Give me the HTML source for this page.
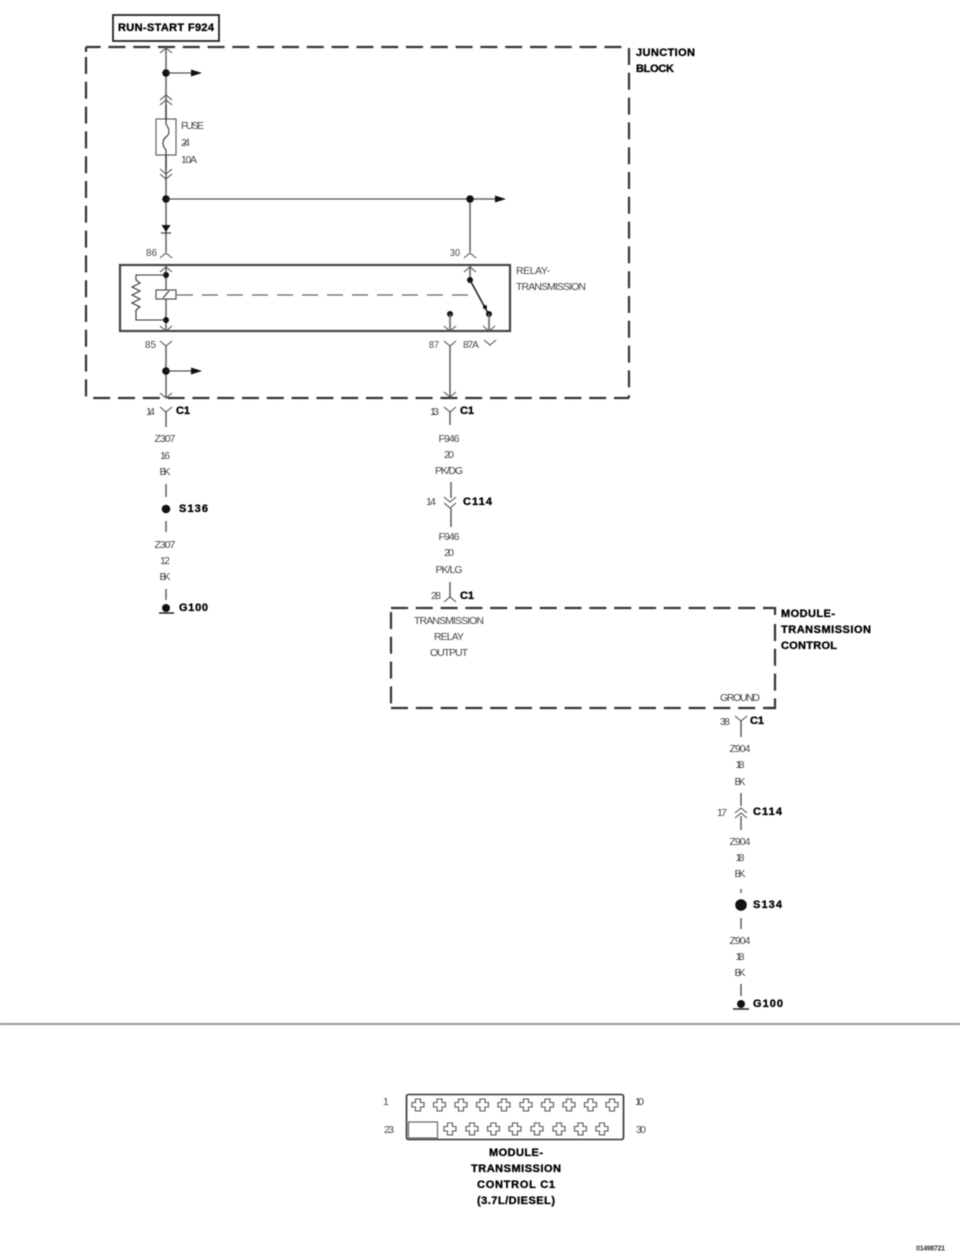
<!DOCTYPE html>
<html><head><meta charset="utf-8"><title>Diagram</title>
<style>
html,body{margin:0;padding:0;background:#fff;width:960px;height:1257px;overflow:hidden}
svg{display:block;filter:blur(0.5px)}
text{font-family:"Liberation Sans Narrow","Liberation Sans",sans-serif;font-size:10.500px;fill:#444;dominant-baseline:central}
.b{font-weight:bold;fill:#000;font-size:11px;stroke:#000;stroke-width:.35}
.m{text-anchor:middle}
.w{stroke:#666;stroke-width:1.600;fill:none}
.d{stroke:#333;stroke-width:2.200;fill:none;stroke-dasharray:17 7.800}
.k{stroke:#333;stroke-width:1.100;fill:none}
</style></head><body>
<svg width="960" height="1257" viewBox="0 0 960 1257" xmlns="http://www.w3.org/2000/svg">
<defs>
<path id="up" d="M-6 5L0 0L6 5" fill="none" stroke="#555" stroke-width="1.100"/>
<path id="dn" d="M-6 0L0 5L6 0" fill="none" stroke="#555" stroke-width="1.100"/>
<path id="x" d="M-2.500 -6H2.500V-2.500H6V2H2.500V6H-2.500V2H-6V-2.500H-2.500Z" fill="#fff" stroke="#555" stroke-width="1.100"/>
</defs>

<!-- Title box -->
<rect x="113" y="15" width="106" height="26" fill="#fff" stroke="#222" stroke-width="1.800"/>
<text class="b" x="118" y="28" textLength="96" lengthAdjust="spacing">RUN-START F924</text>

<!-- Dashed boxes -->
<path class="d" d="M86 47H629" stroke-dashoffset="2.400"/>
<path class="d" d="M86 47V52M86 57V398"/>
<path class="d" d="M629 48V398"/>
<path class="d" d="M86 398H629" stroke-dashoffset="17.600"/>
<path class="d" d="M391 608H767"/>
<path d="M767 608H775V615" fill="none" stroke="#333" stroke-width="2.200"/>
<path class="d" d="M391 612V708"/>
<path class="d" d="M391 708H775"/>
<path class="d" d="M775 624V700"/>
<path d="M775 699V708H767" fill="none" stroke="#333" stroke-width="2.200"/>

<!-- Left feed -->
<path class="w" d="M166 47V119M166 155V252"/>
<use href="#up" x="166" y="48"/>
<circle cx="166" cy="73" r="3.800" fill="#111"/>
<path class="k" d="M166 73H192"/><path d="M191 69.500L202 73L191 76.500Z" fill="#111"/>
<use href="#up" x="166" y="95"/><use href="#up" x="166" y="100"/>
<rect x="156" y="119" width="20" height="36" fill="#fff" stroke="#555" stroke-width="1.100"/>
<path class="k" d="M166 105V124C170 130 170 134 166 137C162 140 162 146 166 150V170" stroke-width="1.300"/>
<use href="#dn" x="166" y="169"/><use href="#dn" x="166" y="174"/>
<circle cx="166" cy="199" r="3.800" fill="#111"/>
<path class="k" d="M166 199H470" stroke="#444"/>
<path d="M161.500 225H170.500L166 232Z" fill="#111"/><path class="k" d="M161 233H171"/>
<use href="#up" x="166" y="253"/>
<text x="146" y="253" textLength="11" lengthAdjust="spacingAndGlyphs">86</text>

<!-- Right feed -->
<path class="w" d="M470 199H496M470 199V252"/><path d="M495 195.500L506 199L495 202.500Z" fill="#111"/>
<circle cx="470" cy="199" r="3.800" fill="#111"/>
<use href="#up" x="470" y="253"/>
<text x="450" y="253" textLength="10" lengthAdjust="spacingAndGlyphs">30</text>

<!-- Relay -->
<rect x="120" y="265" width="390" height="66" fill="#fff" stroke="#444" stroke-width="2.200"/>
<path class="w" d="M166 266V331"/>
<use href="#up" x="166" y="267"/><use href="#dn" x="166" y="326"/>
<circle cx="166" cy="275" r="3" fill="#111"/><circle cx="166" cy="320" r="3" fill="#111"/>
<path class="k" d="M166 275H136V280L140 283L132 287L140 291L132 295L140 299L132 303L140 307L136 310V320H166"/>
<rect x="156" y="290" width="20" height="9" fill="#fff" stroke="#444" stroke-width="1.100"/>
<path class="k" d="M163 298L169 291"/>
<path d="M177 295H470" fill="none" stroke="#666" stroke-width="1.300" stroke-dasharray="16 9"/>
<text x="516" y="271" textLength="34" lengthAdjust="spacing">RELAY-</text>
<text x="516" y="287" textLength="70" lengthAdjust="spacing">TRANSMISSION</text>
<path class="w" d="M470 266V280"/><use href="#up" x="470" y="267"/>
<circle cx="470" cy="280" r="3" fill="#111"/>
<path stroke="#222" stroke-width="1.600" d="M470 280L489 315" fill="none"/>
<circle cx="485" cy="307" r="2" fill="#111"/>
<circle cx="489" cy="314" r="3" fill="#111"/>
<path class="w" d="M489 314V331"/><use href="#dn" x="489" y="326"/>
<circle cx="450" cy="314" r="3" fill="#111"/>
<path class="w" d="M450 314V331"/><use href="#dn" x="450" y="326"/>

<!-- Below relay -->
<use href="#dn" x="166" y="341"/><path class="w" d="M166 346V398"/>
<text x="145" y="345" textLength="11" lengthAdjust="spacingAndGlyphs">85</text>
<circle cx="166" cy="371" r="3.800" fill="#111"/>
<path class="k" d="M166 371H192"/><path d="M191 367.500L202 371L191 374.500Z" fill="#111"/>
<use href="#dn" x="166" y="393"/>
<use href="#dn" x="450" y="341"/><path class="w" d="M450 346V397"/><use href="#dn" x="450" y="392"/>
<text x="429" y="345" textLength="10" lengthAdjust="spacingAndGlyphs">87</text>
<text x="463" y="345" textLength="16" lengthAdjust="spacing">87A</text>
<use href="#dn" x="490" y="340"/>

<!-- Fuse labels -->
<text x="181" y="126" textLength="23" lengthAdjust="spacing">FUSE</text>
<text x="181" y="143" textLength="9" lengthAdjust="spacing">24</text>
<text x="181" y="160" textLength="16" lengthAdjust="spacing">10A</text>

<text class="b" x="636" y="53" textLength="59" lengthAdjust="spacing">JUNCTION</text>
<text class="b" x="636" y="69" textLength="38" lengthAdjust="spacing">BLOCK</text>

<!-- Left lower chain -->
<use href="#dn" x="166" y="407"/><path class="w" d="M166 412V427M166 484V497M166 521V532M166 589V600"/>
<text x="146" y="412" textLength="9" lengthAdjust="spacing">14</text>
<text class="b" x="176" y="411" textLength="14" lengthAdjust="spacing">C1</text>
<text class="m" x="165" y="439" textLength="21" lengthAdjust="spacing">Z307</text>
<text class="m" x="165" y="456" textLength="10" lengthAdjust="spacing">16</text>
<text class="m" x="165" y="472" textLength="11" lengthAdjust="spacing">BK</text>
<circle cx="166" cy="509" r="4.300" fill="#111"/>
<text class="b" x="179" y="509" textLength="29" lengthAdjust="spacing">S136</text>
<text class="m" x="165" y="545" textLength="21" lengthAdjust="spacing">Z307</text>
<text class="m" x="165" y="561" textLength="10" lengthAdjust="spacing">12</text>
<text class="m" x="165" y="577" textLength="11" lengthAdjust="spacing">BK</text>
<circle cx="166" cy="608" r="4" fill="#111"/><path d="M159 613H174" stroke="#222" stroke-width="1.500"/>
<text class="b" x="179" y="608" textLength="29" lengthAdjust="spacing">G100</text>

<!-- Middle chain -->
<use href="#dn" x="450" y="407"/><path class="w" d="M450 412V425M451 482V498M451 508V527M450 582V598"/>
<text x="430" y="412" textLength="9" lengthAdjust="spacing">13</text>
<text class="b" x="460" y="411" textLength="14" lengthAdjust="spacing">C1</text>
<text class="m" x="449" y="439" textLength="21" lengthAdjust="spacing">F946</text>
<text class="m" x="449" y="455" textLength="10" lengthAdjust="spacing">20</text>
<text class="m" x="449" y="471" textLength="28" lengthAdjust="spacing">PK/DG</text>
<use href="#dn" x="450" y="497"/><use href="#dn" x="450" y="503"/>
<text x="426" y="502" textLength="10" lengthAdjust="spacing">14</text>
<text class="b" x="463" y="502" textLength="29" lengthAdjust="spacing">C114</text>
<text class="m" x="449" y="537" textLength="21" lengthAdjust="spacing">F946</text>
<text class="m" x="449" y="553" textLength="10" lengthAdjust="spacing">20</text>
<text class="m" x="449" y="570" textLength="27" lengthAdjust="spacing">PK/LG</text>
<use href="#up" x="450" y="597"/>
<text x="431" y="596" textLength="10" lengthAdjust="spacing">28</text>
<text class="b" x="460" y="596" textLength="14" lengthAdjust="spacing">C1</text>
<text x="414" y="621" textLength="70" lengthAdjust="spacing">TRANSMISSION</text>
<text x="434" y="637" textLength="30" lengthAdjust="spacing">RELAY</text>
<text x="430" y="653" textLength="38" lengthAdjust="spacing">OUTPUT</text>
<text x="720" y="698" textLength="40" lengthAdjust="spacing">GROUND</text>
<text class="b" x="781" y="614" textLength="54" lengthAdjust="spacing">MODULE-</text>
<text class="b" x="781" y="630" textLength="90" lengthAdjust="spacing">TRANSMISSION</text>
<text class="b" x="781" y="646" textLength="56" lengthAdjust="spacing">CONTROL</text>

<!-- Right chain -->
<use href="#dn" x="741" y="716"/><path class="w" d="M741 721V737M741 793V806M741 816V830M741 889V893M741 918V929M741 984V996"/>
<text x="720" y="722" textLength="10" lengthAdjust="spacing">38</text>
<text class="b" x="750" y="721" textLength="14" lengthAdjust="spacing">C1</text>
<text class="m" x="740" y="749" textLength="21" lengthAdjust="spacing">Z904</text>
<text class="m" x="740" y="765" textLength="9" lengthAdjust="spacing">18</text>
<text class="m" x="740" y="782" textLength="11" lengthAdjust="spacing">BK</text>
<use href="#up" x="741" y="808"/><use href="#up" x="741" y="813"/>
<text x="717" y="813" textLength="10" lengthAdjust="spacing">17</text>
<text class="b" x="753" y="812" textLength="29" lengthAdjust="spacing">C114</text>
<text class="m" x="740" y="842" textLength="21" lengthAdjust="spacing">Z904</text>
<text class="m" x="740" y="858" textLength="9" lengthAdjust="spacing">18</text>
<text class="m" x="740" y="874" textLength="11" lengthAdjust="spacing">BK</text>
<circle cx="741" cy="905" r="5.800" fill="#111"/>
<text class="b" x="753" y="905" textLength="29" lengthAdjust="spacing">S134</text>
<text class="m" x="740" y="941" textLength="21" lengthAdjust="spacing">Z904</text>
<text class="m" x="740" y="957" textLength="9" lengthAdjust="spacing">18</text>
<text class="m" x="740" y="973" textLength="11" lengthAdjust="spacing">BK</text>
<circle cx="741" cy="1004" r="4" fill="#111"/><path d="M733 1009H749" stroke="#222" stroke-width="1.500"/>
<text class="b" x="753" y="1004" textLength="30" lengthAdjust="spacing">G100</text>

<!-- Separator -->
<path d="M0 1024H960" stroke="#999" stroke-width="2"/>

<!-- Connector -->
<rect x="406.500" y="1094.500" width="217" height="45" rx="2" fill="#fff" stroke="#333" stroke-width="1.600"/>
<g>
<use href="#x" x="418" y="1105"/><use href="#x" x="439.500" y="1105"/><use href="#x" x="461" y="1105"/><use href="#x" x="482.500" y="1105"/><use href="#x" x="504" y="1105"/><use href="#x" x="526" y="1105"/><use href="#x" x="547.500" y="1105"/><use href="#x" x="569" y="1105"/><use href="#x" x="590.500" y="1105"/><use href="#x" x="612" y="1105"/>
<use href="#x" x="450" y="1129"/><use href="#x" x="472" y="1129"/><use href="#x" x="493.500" y="1129"/><use href="#x" x="515" y="1129"/><use href="#x" x="537" y="1129"/><use href="#x" x="559" y="1129"/><use href="#x" x="580.500" y="1129"/><use href="#x" x="602" y="1129"/>
</g>
<rect x="408.500" y="1122" width="29" height="16" fill="#fff" stroke="#666" stroke-width="1.200"/>
<text x="383" y="1102" textLength="4" lengthAdjust="spacing">1</text>
<text x="384" y="1130" textLength="10" lengthAdjust="spacing">23</text>
<text x="635" y="1102" textLength="9" lengthAdjust="spacing">10</text>
<text x="636" y="1130" textLength="10" lengthAdjust="spacing">30</text>
<text class="b m" x="516" y="1153" textLength="54" lengthAdjust="spacing">MODULE-</text>
<text class="b m" x="516" y="1169" textLength="90" lengthAdjust="spacing">TRANSMISSION</text>
<text class="b m" x="516" y="1185" textLength="78" lengthAdjust="spacing">CONTROL C1</text>
<text class="b m" x="516" y="1201" textLength="78" lengthAdjust="spacing">(3.7L/DIESEL)</text>
<text class="b" x="916" y="1249" textLength="29" lengthAdjust="spacing" style="font-size:7px;fill:#333;stroke:none">01498721</text>
</svg>
</body></html>
